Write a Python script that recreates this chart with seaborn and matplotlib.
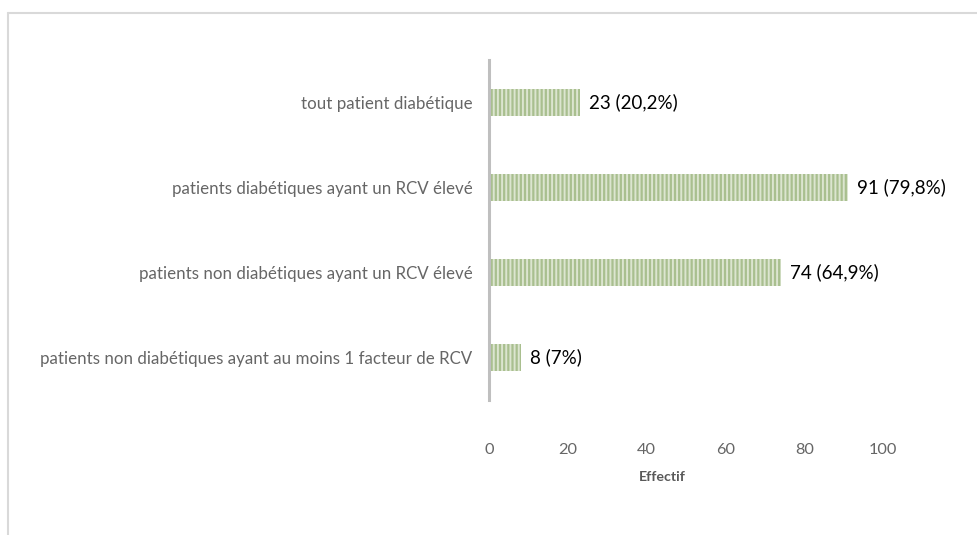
import pandas as pd
import matplotlib.pyplot as plt
import seaborn as sns
from matplotlib.lines import Line2D

categories = [
    "tout patient diabétique",
    "patients diabétiques ayant un RCV élevé",
    "patients non diabétiques ayant un RCV élevé",
    "patients non diabétiques ayant au moins 1 facteur de RCV",
]
effectifs = [23, 91, 74, 8]
etiquettes = ["23 (20,2%)", "91 (79,8%)", "74 (64,9%)", "8 (7%)"]
ticks = [0, 20, 40, 60, 80, 100]

df = pd.DataFrame({"categorie": categories, "effectif": effectifs})

sns.set_style("white")
plt.rcParams['font.family'] = ['Lato', 'DejaVu Sans']
plt.rcParams['hatch.linewidth'] = 1.4

fig = plt.figure(figsize=(9.78, 5.35), dpi=100)
ax = fig.add_axes([0.5, 0.252, 0.403, 0.636])

sns.barplot(data=df, x="effectif", y="categorie", orient="h", width=0.32,
            color="#a9bf8f", saturation=1, ax=ax)

# hachures verticales claires comme dans Excel
for p in ax.patches:
    p.set_hatch("||||")
    p.set_edgecolor("#dce5d0")
    p.set_linewidth(0)

for i, (v, txt) in enumerate(zip(effectifs, etiquettes)):
    ax.text(v + 2.3, i, txt, va="center", ha="left", fontsize=13.5,
            color="black", clip_on=False)

ax.set_xlim(0, 100)
ax.set_ylim(3.5, -0.5)
ax.set_xticks(ticks)
ax.set_xticklabels([str(t) for t in ticks], fontsize=11.8, color="#666666")
ax.tick_params(axis="y", labelsize=12.2, labelcolor="#666666", length=0, pad=12)
ax.tick_params(axis="x", length=0, pad=31)
ax.set_ylabel("")
ax.set_xlabel("Effectif", fontsize=10.3, fontweight="bold", color="#595959")
ax.xaxis.set_label_coords(0.44, -0.226)
ax.xaxis.label.set_va("center")

for s in ["top", "right", "bottom"]:
    ax.spines[s].set_visible(False)
ax.spines["left"].set_color("#bfbfbf")
ax.spines["left"].set_linewidth(2.2)

# cadre gris clair autour du graphique
fig.add_artist(Line2D([8/978, 8/978], [0, 1 - 13/535], color="#d9d9d9", lw=1.5))
fig.add_artist(Line2D([8/978, 1], [1 - 13/535, 1 - 13/535], color="#d9d9d9", lw=1.5))

plt.savefig("out.png", dpi=100)
